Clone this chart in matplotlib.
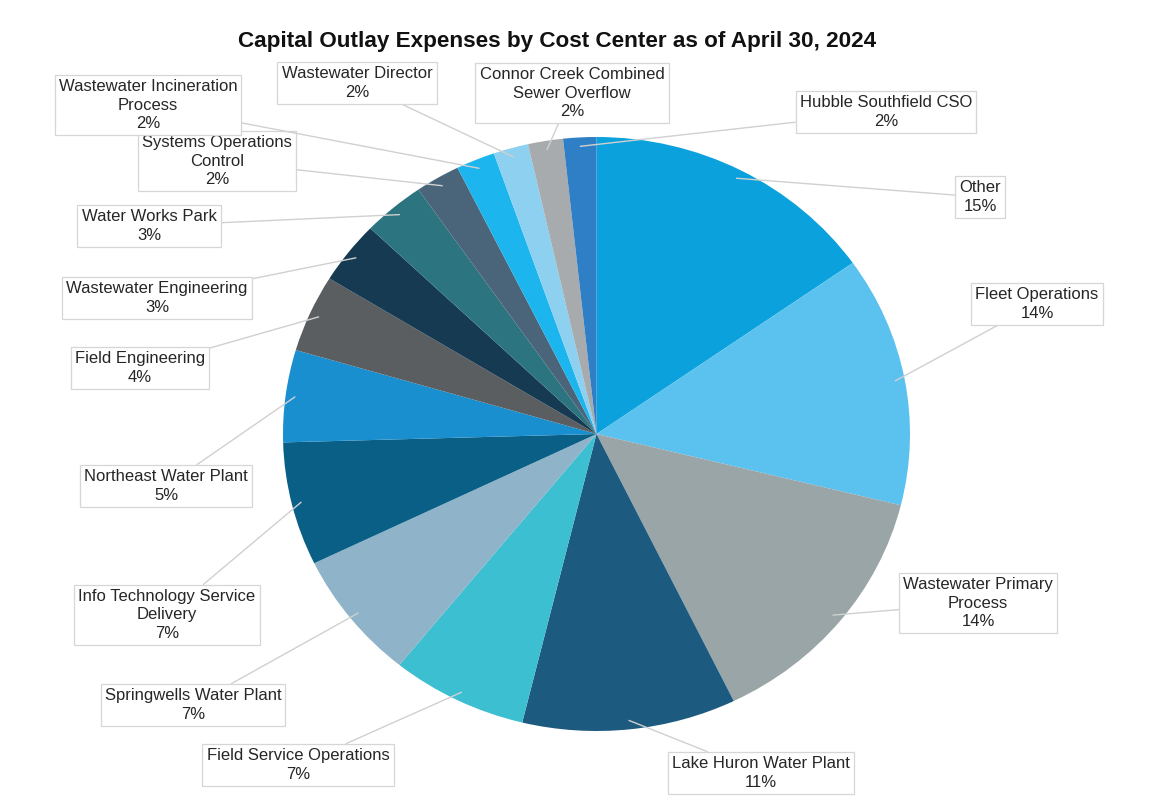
import matplotlib.pyplot as plt
import numpy as np

plt.rcParams['font.family'] = ['Liberation Sans', 'DejaVu Sans']

# cost centers, clockwise from 12 o'clock
centers = ["Other", "Fleet Operations", "Wastewater Primary\nProcess",
           "Lake Huron Water Plant", "Field Service Operations",
           "Springwells Water Plant", "Info Technology Service\nDelivery",
           "Northeast Water Plant", "Field Engineering",
           "Wastewater Engineering", "Water Works Park",
           "Systems Operations\nControl", "Wastewater Incineration\nProcess",
           "Wastewater Director", "Connor Creek Combined\nSewer Overflow",
           "Hubble Southfield CSO"]
shares = [15.2, 13.6, 13.9, 11.0, 7.0, 7.0, 6.7, 5.0, 4.2, 3.4, 3.2,
          2.3, 2.0, 1.8, 1.8, 1.7]

colors = ["#0aa1dd", "#5bc2ef", "#9aa5a7", "#1d5a80", "#3cbfd0", "#8fb3c8",
          "#0a5f86", "#1a8fcf", "#5a5e60", "#163a52", "#2b7480", "#4a6479",
          "#1cb5ee", "#8dd0f0", "#a7abad", "#2e7fc6"]

# label box centres, image pixels (x from left, y from top)
label_pos = [(980, 197), (1037, 304), (978, 603), (761, 773), (298, 765),
             (193, 705), (167, 615), (166, 486), (140, 368), (157, 298),
             (149, 226), (217, 161), (148, 105), (357, 83), (572, 93),
             (886, 112)]

W, H = 1159, 797
fig = plt.figure(figsize=(W / 100, H / 100), dpi=100)
fig.patch.set_facecolor("white")

ax = fig.add_axes([283 / W, (H - 731) / H, 627 / W, 594 / H])
wedges, _ = ax.pie(shares, colors=colors, startangle=90, counterclock=False,
                   wedgeprops=dict(linewidth=0))
ax.set_aspect("auto")
ax.set_xlim(-1, 1)
ax.set_ylim(-1, 1)
ax.axis("off")

total = sum(shares)
for w, name, val, (lx, ly) in zip(wedges, centers, shares, label_pos):
    ang = np.deg2rad((w.theta1 + w.theta2) / 2)
    pct = round(val / total * 100)
    ax.annotate(f"{name}\n{pct}%", xy=(0.97 * np.cos(ang), 0.97 * np.sin(ang)),
                xycoords="data", xytext=(lx, H - ly), textcoords="figure pixels",
                ha="center", va="center", fontsize=12, color="#262626",
                linespacing=1.3,
                bbox=dict(boxstyle="square,pad=0.25", fc="white", ec="#d6d6d6", lw=0.9),
                arrowprops=dict(arrowstyle="-", color="#d0d0d0", lw=1.0,
                                shrinkA=0, shrinkB=0),
                annotation_clip=False)

fig.text(557 / W, 1 - 42 / H, "Capital Outlay Expenses by Cost Center as of April 30, 2024",
         ha="center", va="center", fontsize=16.2, fontweight="bold", color="#111111")

fig.savefig("out.png", dpi=100)
